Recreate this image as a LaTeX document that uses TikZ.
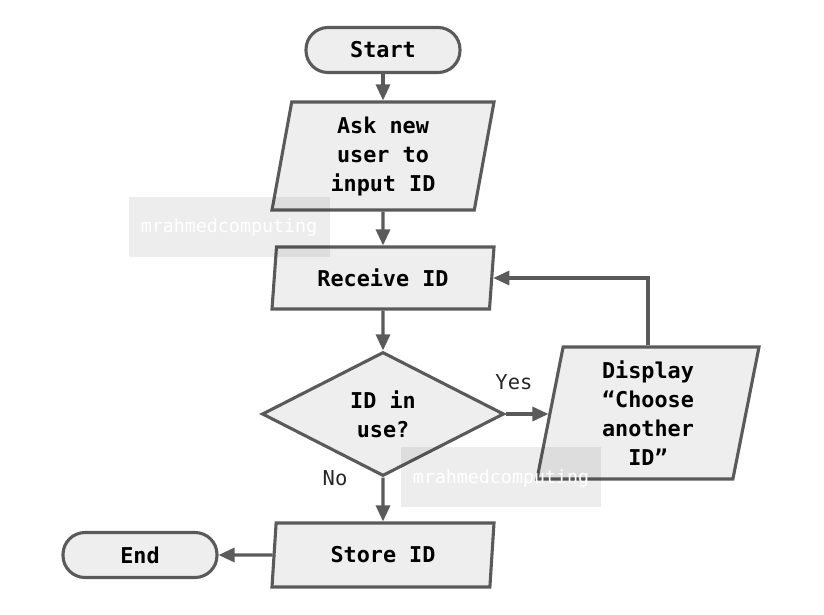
\documentclass[tikz,border=0pt]{standalone}
\usepackage{fontspec}
\setmonofont{DejaVu Sans Mono}
\usetikzlibrary{shapes.geometric,arrows.meta}
\definecolor{edge}{HTML}{5A5A5A}
\definecolor{boxfill}{HTML}{EEEEEE}
\begin{document}
\begin{tikzpicture}[x=1pt,y=-1pt,
 base/.style={draw=edge, line width=3.1pt, fill=boxfill, text=black,
   font=\ttfamily\bfseries\fontsize{21.8}{29}\selectfont, align=center, inner sep=0pt},
 term/.style={base, rounded corners=22pt, minimum width=154pt, minimum height=45pt},
 io/.style={base, trapezium, trapezium left angle=76, trapezium right angle=104,
   trapezium stretches body, minimum width=222pt},
 dec/.style={base, diamond, minimum width=242pt, minimum height=124pt},
 conn/.style={draw=edge, line width=3.1pt, -{Triangle[length=16pt,width=14pt]}},
 lbl/.style={font=\ttfamily\fontsize{20.5}{24}\selectfont, text=black!85},
 wm/.style={fill=black, fill opacity=0.07, draw=none},
 wmtext/.style={text=white, font=\ttfamily\fontsize{18.3}{20}\selectfont}]
\useasboundingbox (0,0) rectangle (824,615);

\node[term] (start) at (383,50) {Start};
\node[io, minimum height=108pt] (ask) at (383,156) {\raisebox{-2pt}{\parbox{150pt}{\centering Ask new\\user to\\input ID}}};
\node[io, minimum height=62pt] (recv) at (383,278) {Receive ID};
\node[dec] (dec) at (383,414) {ID in\\use?};
\node[io, minimum height=132pt] (disp) at (648,413) {Display\\“Choose\\another\\ID”};
\node[io, minimum height=64pt] (store) at (383,555) {Store ID};
\node[term] (end) at (140,555) {End};

\draw[conn] (start) -- (ask);
\draw[conn] (ask) -- (recv);
\draw[conn] (recv) -- (dec);
\draw[conn] (dec.east) -- (dec.east -| disp.west);
\draw[conn] (disp.north) |- (recv.east);
\draw[conn] (dec.south) -- (store.north);
\draw[conn] (store.west) -- (end.east);

\node[lbl] (yes) at (514,382) {Yes};
\node[lbl] (no) at (335,478) {No};

\fill[wm] (129,197) rectangle (330,257);
\node[wmtext] (wm1) at (229,228) {mrahmedcomputing};
\fill[wm] (401,447) rectangle (601,507);
\node[wmtext] (wm2) at (501,479) {mrahmedcomputing};
\end{tikzpicture}
\end{document}
